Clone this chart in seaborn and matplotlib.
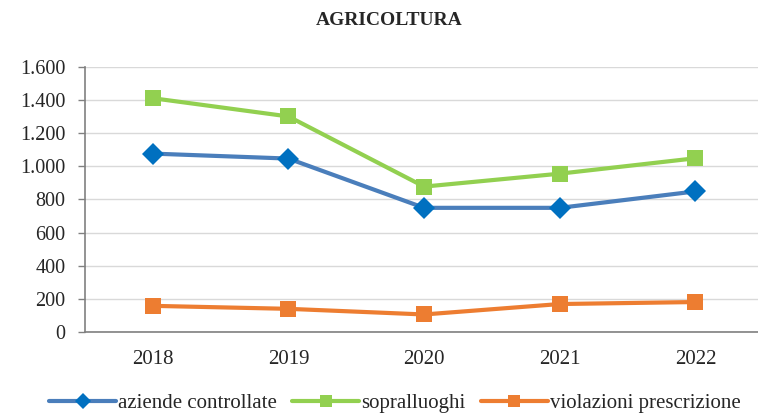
import matplotlib
matplotlib.use("Agg")
import matplotlib.pyplot as plt
import matplotlib.ticker as mticker
import pandas as pd
import seaborn as sns

years = [2018, 2019, 2020, 2021, 2022]
aziende_controllate = [1076, 1046, 749, 749, 848]
sopralluoghi = [1410, 1300, 877, 955, 1048]
violazioni_prescrizione = [158, 140, 106, 169, 181]

series_names = ["aziende controllate", "sopralluoghi", "violazioni prescrizione"]
line_colors = ["#4a7ebb", "#92d050", "#ed7d31"]
marker_colors = ["#0070c0", "#92d050", "#ed7d31"]
markers = ["D", "s", "s"]

sns.set_theme(style="white")
plt.rcParams["font.family"] = ["Liberation Serif", "DejaVu Serif"]

df = pd.DataFrame({
    "anno": years * 3,
    "valore": aziende_controllate + sopralluoghi + violazioni_prescrizione,
    "serie": [n for n in series_names for _ in years],
})

fig = plt.figure(figsize=(7.58, 4.13), dpi=100)
ax = fig.add_axes([0.112, 0.196, 0.895, 0.6425])

for name, lc, mc, mk in zip(series_names, line_colors, marker_colors, markers):
    sub = df[df["serie"] == name]
    sns.lineplot(
        data=sub, x="anno", y="valore", ax=ax, color=lc, linewidth=3,
        marker=mk, markersize=11 if mk == "D" else 11.5,
        markerfacecolor=mc, markeredgecolor=mc, markeredgewidth=0,
        label=name,
    )

ax.set_xlim(2017.5, 2022.5)
ax.set_ylim(0, 1600)
ax.set_xticks(years)
ax.set_xticklabels([str(y) for y in years], fontsize=15)
ax.yaxis.set_major_locator(mticker.MultipleLocator(200))
ax.yaxis.set_major_formatter(
    mticker.FuncFormatter(lambda v, _: f"{int(v):,}".replace(",", "."))
)
ax.tick_params(axis="y", labelsize=14.5, length=5, width=1, color="#808080", pad=9, left=True)
ax.tick_params(axis="x", length=0, pad=13)
ax.grid(axis="y", color="#d9d9d9", linewidth=1)
ax.set_axisbelow(True)
for side in ["top", "right"]:
    ax.spines[side].set_visible(False)
for side in ["left", "bottom"]:
    ax.spines[side].set_color("#808080")
    ax.spines[side].set_linewidth(1.2)
ax.set_xlabel("")
ax.set_ylabel("")

fig.text(0.513, 0.95, "AGRICOLTURA", ha="center", va="center",
         fontsize=14, fontweight="bold")

leg = ax.legend(loc="center", bbox_to_anchor=(0.457, -0.268), ncol=3, frameon=False,
                fontsize=15, handlelength=3.2, handletextpad=0.1, columnspacing=0.75,
                borderaxespad=0)
for h in leg.legend_handles:
    h.set_markersize(8)

fig.savefig("out.png", dpi=100)
